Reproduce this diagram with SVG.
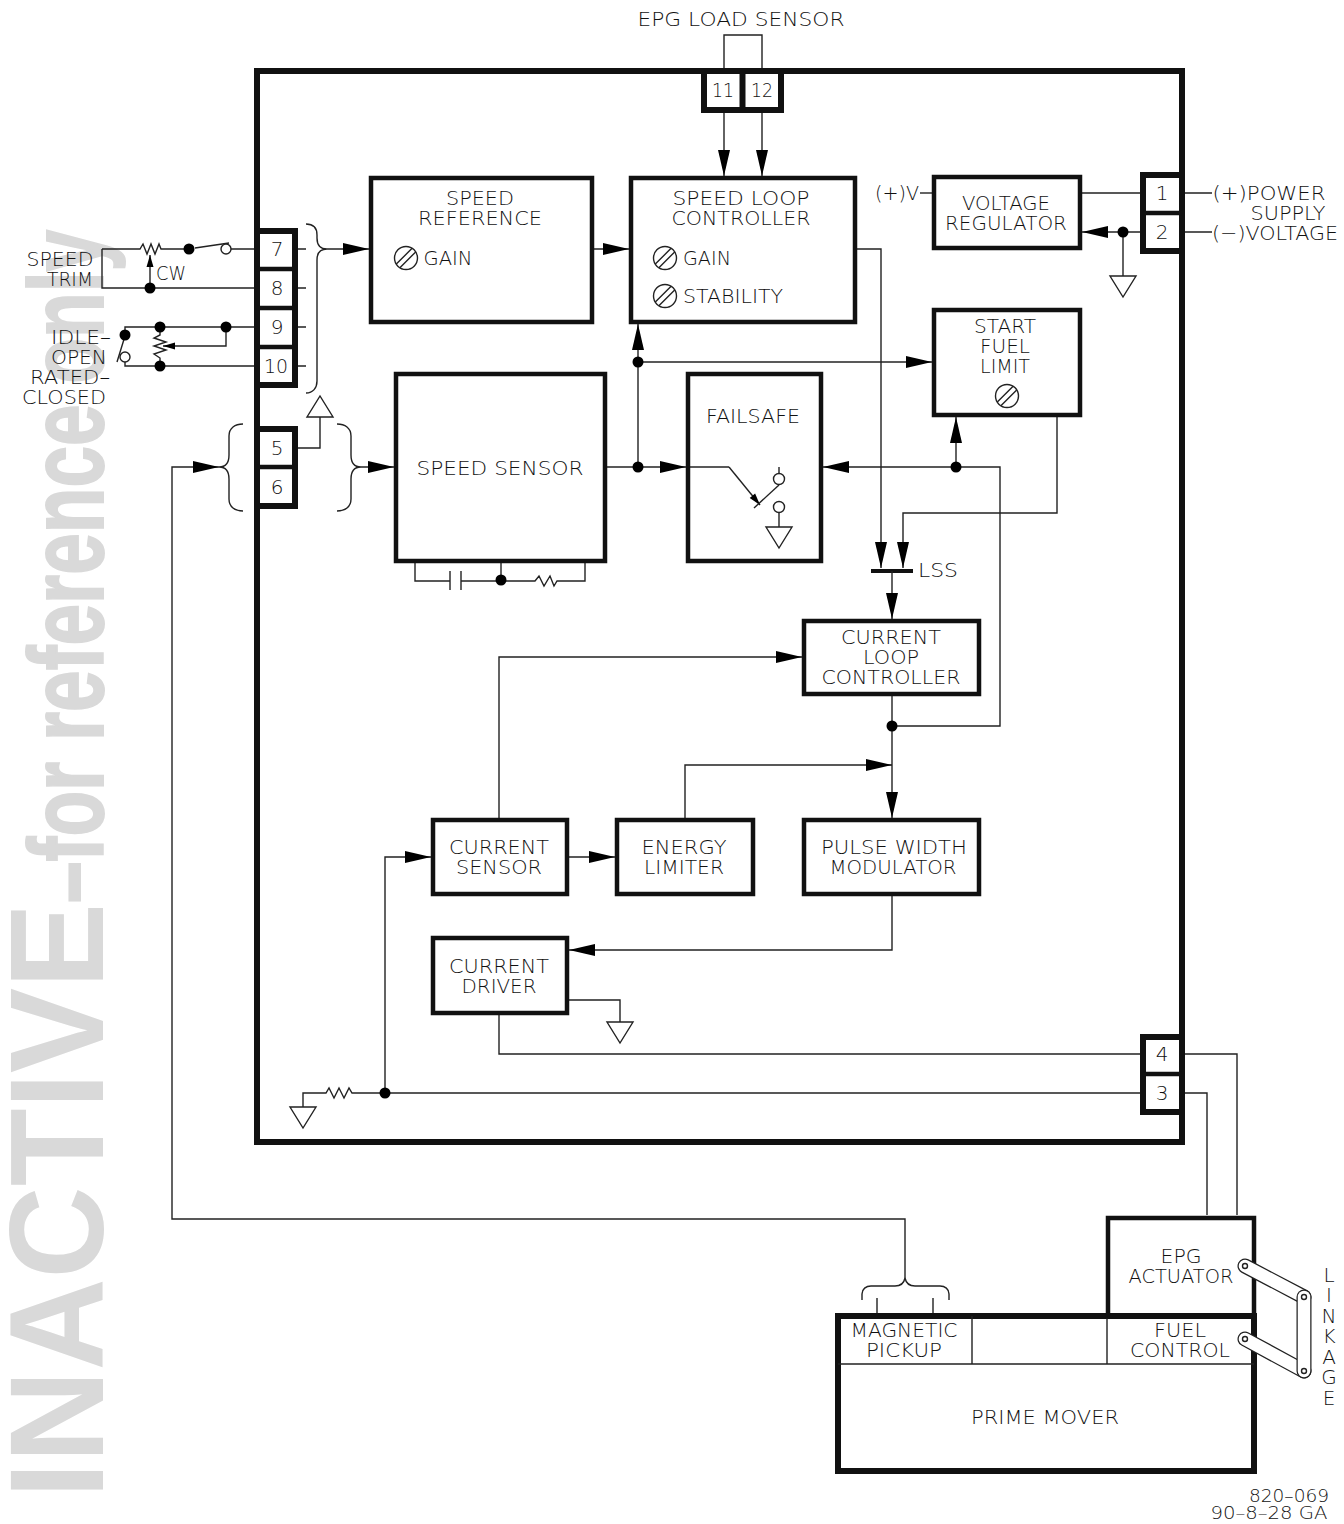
<svg xmlns="http://www.w3.org/2000/svg" width="1344" height="1524" viewBox="0 0 1344 1524">
<style>
.t{font-family:"DejaVu Sans","Liberation Sans",sans-serif;font-weight:200;font-size:20px;fill:#111;text-anchor:middle;transform:translateY(-1px)}
.n{font-family:"DejaVu Sans","Liberation Sans",sans-serif;font-weight:200;font-size:20px;fill:#111;text-anchor:middle;transform:translateY(-1px)}
.b{fill:none;stroke:#111;stroke-width:4.5}
.p{fill:#fff;stroke:#111;stroke-width:6}
.o{fill:none;stroke:#111;stroke-width:6}
.w{fill:none;stroke:#222;stroke-width:1.4}
.a{marker-end:url(#ah)}
.s{marker-end:url(#sh)}
.d{fill:#000;stroke:none}
.c{fill:#fff;stroke:#222;stroke-width:1.4}
.lo{fill:none;stroke:#222;stroke-width:15;stroke-linecap:round}
.li{fill:none;stroke:#fff;stroke-width:12.500;stroke-linecap:round}
</style>
<defs>
<marker id="ah" markerUnits="userSpaceOnUse" markerWidth="28" markerHeight="14" refX="27" refY="6" orient="auto" viewBox="0 0 28 12"><path d="M1 0L27 6L1 12Z" fill="#000"/></marker>
<marker id="sh" markerUnits="userSpaceOnUse" markerWidth="14" markerHeight="8" refX="13" refY="4" orient="auto" viewBox="0 0 14 8"><path d="M1 .5L13 4L1 7.5Z" fill="#000"/></marker>
<g id="trim"><circle r="11.500" fill="none" stroke="#222" stroke-width="1.400"/><path d="M-9.700 6.100L6.100 -9.700M-6.100 9.700L9.700 -6.100" fill="none" stroke="#222" stroke-width="1.400"/></g>
<path id="gnd" d="M-13 0H13L0 21Z" fill="none" stroke="#222" stroke-width="1.400"/>
</defs>
<rect width="1344" height="1524" fill="#fff"/>
<text id="watermark" transform="translate(103,1498) rotate(-90)" font-family="Liberation Sans" font-weight="700" fill="#d9d9d9"><tspan font-size="133" textLength="595" lengthAdjust="spacingAndGlyphs">INACTIVE</tspan><tspan font-size="105" textLength="673" lengthAdjust="spacingAndGlyphs" stroke="#d9d9d9" stroke-width="2">–for reference only</tspan></text>

<g id="connectors">
<path class="w" d="M724 71V35H762V71"/>
<path class="w a" d="M724 112V176"/>
<path class="w a" d="M762 112V176"/>
<path class="w a" d="M593 249H629"/>
<path class="w" d="M298 249H306M298 288H306M298 327H306M298 366H306"/>
<path class="w" d="M306 224C313 224 317 228 317 235V238C317 245 320 249 327 249C320 249 317 253 317 260V381C317 388 313 393 306 393"/>
<path class="w a" d="M327 249H369"/>
<path class="w" d="M298 448H320V417"/>
<path class="w" d="M243 424C235 424 229 428 229 436V455C229 462 226 467 219 467C226 467 229 472 229 479V499C229 507 235 511 243 511"/>
<path class="w" d="M337 424C345 424 351 428 351 436V455C351 462 354 467 361 467C354 467 351 472 351 479V499C351 507 345 511 337 511"/>
<path class="w a" d="M361 467H394"/>
<path class="w a" d="M905 1278V1219H172V467H219"/>
<path class="w" d="M862 1300V1294C862 1289 866 1286 871 1286H895C900 1286 904 1283 905 1278C906 1283 910 1286 915 1286H940C945 1286 949 1289 949 1294V1300"/>
<path class="w" d="M877 1298V1316M933 1298V1316"/>
<path class="w a" d="M607 467H686"/>
<path class="w a" d="M638 467V324"/>
<path class="w a" d="M638 362H932"/>
<path class="w a" d="M857 249H881V568"/>
<path class="w a" d="M1057 417V513H903V568"/>
<path class="b" d="M871 571H913" style="stroke-width:4"/>
<path class="w a" d="M892 571V619"/>
<path class="w a" d="M892 696V818"/>
<path class="w a" d="M892 726H1000V467H823"/>
<path class="w a" d="M956 467V417"/>
<path class="w" d="M686 467H729"/>
<path class="w s" d="M729 467L760 505"/>
<path class="w" d="M754 508L779 485"/>
<path class="w" d="M779 473V467"/>
<path class="w" d="M779 513V527"/>
<path class="w" d="M415 563V581H450M450 571V590M461 571V590M461 581H535L539 576L544 586L550 576L554 586L557 581H585V563M501 563V581"/>
<path class="w" d="M920 193H932"/>
<path class="w" d="M1082 193H1140M1185 193H1212M1185 232H1212"/>
<path class="w a" d="M1140 232H1082"/>
<path class="w" d="M1123 232V276"/>
<path class="w a" d="M499 818V657H802"/>
<path class="w a" d="M569 857H615"/>
<path class="w a" d="M685 818V765H892"/>
<path class="w a" d="M892 896V950H569"/>
<path class="w" d="M569 1000H620V1022"/>
<path class="w" d="M499 1015V1054H1140M1185 1054H1237V1215M1185 1093H1207V1215"/>
<path class="w" d="M1140 1093H352L349 1088L344 1098L339 1088L334 1098L329 1088L326 1093H303V1107"/>
<path class="w a" d="M385 1093V857H431"/>
<path class="w" d="M102 249H140L143 244L147 254L151 244L155 254L159 244L161 249H189M195 248L229 243M231 249H258M102 249V288H258"/>
<path class="w s" d="M150 288V255"/>
<path class="w" d="M125 335V327H258M125 362V366H258M117 362L125 336"/>
<path class="w" d="M160 327V335L154 338L166 342L154 346L166 350L154 354L160 358V366"/>
<path class="w s" d="M226 327V346H163"/>
<circle class="d" cx="638" cy="467" r="5.500"/><circle class="d" cx="638" cy="362" r="5.500"/><circle class="d" cx="956" cy="467" r="5.500"/><circle class="d" cx="892" cy="726" r="5.500"/><circle class="d" cx="501" cy="580" r="5.500"/><circle class="d" cx="1123" cy="232" r="5.500"/><circle class="d" cx="385" cy="1093" r="5.500"/><circle class="d" cx="189" cy="249" r="5.500"/><circle class="d" cx="150" cy="288" r="5.500"/><circle class="d" cx="125" cy="335" r="5.500"/><circle class="d" cx="160" cy="327" r="5.500"/><circle class="d" cx="226" cy="327" r="5.500"/><circle class="d" cx="160" cy="366" r="5.500"/>
<circle class="c" cx="226" cy="249" r="5"/><circle class="c" cx="125" cy="357" r="5"/><circle class="c" cx="779" cy="479" r="5.500"/><circle class="c" cx="779" cy="507" r="5.500"/>
<use href="#gnd" x="320" y="417" transform="translate(640,834) scale(-1,-1)"/>
<use href="#gnd" x="779" y="527"/><use href="#gnd" x="1123" y="276"/><use href="#gnd" x="620" y="1022"/><use href="#gnd" x="303" y="1107"/>
</g>

<g id="frame"><rect class="o" x="257" y="71" width="925" height="1071"/></g>

<g id="term-top"><rect class="p" x="704" y="71" width="77" height="39"/><path class="o" d="M742.500 71V110"/><text class="n" x="723" y="98" textLength="22" lengthAdjust="spacingAndGlyphs">11</text><text class="n" x="762" y="98" textLength="22" lengthAdjust="spacingAndGlyphs">12</text></g>
<g id="term-7-10"><rect class="p" x="257" y="231" width="38" height="154"/><path class="b" d="M257 269H295M257 308H295M257 347H295"/><text class="n" x="277" y="257">7</text><text class="n" x="277" y="296">8</text><text class="n" x="277" y="335">9</text><text class="n" x="276" y="374" textLength="24" lengthAdjust="spacingAndGlyphs">10</text></g>
<g id="term-5-6"><rect class="p" x="257" y="429" width="38" height="77"/><path class="b" d="M257 467H295"/><text class="n" x="277" y="456">5</text><text class="n" x="277" y="495">6</text></g>
<g id="term-1-2"><rect class="p" x="1143" y="175" width="39" height="76"/><path class="b" d="M1143 213H1182"/><text class="n" x="1162" y="201">1</text><text class="n" x="1162" y="240">2</text></g>
<g id="term-4-3"><rect class="p" x="1143" y="1037" width="39" height="75"/><path class="b" d="M1143 1074H1182"/><text class="n" x="1162" y="1062">4</text><text class="n" x="1162" y="1101">3</text></g>

<g id="speed-reference"><rect class="b" x="371" y="178" width="221" height="144"/><text class="t" x="480" y="206" textLength="68" lengthAdjust="spacingAndGlyphs">SPEED</text><text class="t" x="480" y="226" textLength="124" lengthAdjust="spacingAndGlyphs">REFERENCE</text><use href="#trim" x="406" y="258"/><text class="t" x="448" y="266" textLength="49" lengthAdjust="spacingAndGlyphs">GAIN</text></g>
<g id="speed-loop"><rect class="b" x="631" y="178" width="224" height="144"/><text class="t" x="741" y="206" textLength="137" lengthAdjust="spacingAndGlyphs">SPEED LOOP</text><text class="t" x="741" y="226" textLength="139" lengthAdjust="spacingAndGlyphs">CONTROLLER</text><use href="#trim" x="665" y="258"/><text class="t" x="707" y="266" textLength="48" lengthAdjust="spacingAndGlyphs">GAIN</text><use href="#trim" x="665" y="296"/><text class="t" x="733" y="304" textLength="100" lengthAdjust="spacingAndGlyphs">STABILITY</text></g>
<g id="voltage-regulator"><rect class="b" x="934" y="177" width="146" height="71"/><text class="t" x="1006" y="211" textLength="88" lengthAdjust="spacingAndGlyphs">VOLTAGE</text><text class="t" x="1006" y="231" textLength="122" lengthAdjust="spacingAndGlyphs">REGULATOR</text></g>
<g id="start-fuel-limit"><rect class="b" x="934" y="310" width="146" height="105"/><text class="t" x="1005" y="334" textLength="62" lengthAdjust="spacingAndGlyphs">START</text><text class="t" x="1005" y="354" textLength="50" lengthAdjust="spacingAndGlyphs">FUEL</text><text class="t" x="1005" y="374" textLength="50" lengthAdjust="spacingAndGlyphs">LIMIT</text><use href="#trim" x="1007" y="396"/></g>
<g id="speed-sensor"><rect class="b" x="396" y="374" width="209" height="187"/><text class="t" x="500" y="476" textLength="167" lengthAdjust="spacingAndGlyphs">SPEED SENSOR</text></g>
<g id="failsafe"><rect class="b" x="688" y="374" width="133" height="187"/><text class="t" x="753" y="424" textLength="94" lengthAdjust="spacingAndGlyphs">FAILSAFE</text></g>
<g id="lss"><text class="t" x="938" y="578" textLength="40" lengthAdjust="spacingAndGlyphs">LSS</text></g>
<g id="current-loop"><rect class="b" x="804" y="621" width="175" height="73"/><text class="t" x="891" y="645" textLength="100" lengthAdjust="spacingAndGlyphs">CURRENT</text><text class="t" x="891" y="665" textLength="56" lengthAdjust="spacingAndGlyphs">LOOP</text><text class="t" x="891" y="685" textLength="139" lengthAdjust="spacingAndGlyphs">CONTROLLER</text></g>
<g id="current-sensor"><rect class="b" x="433" y="820" width="134" height="74"/><text class="t" x="499" y="855" textLength="100" lengthAdjust="spacingAndGlyphs">CURRENT</text><text class="t" x="499" y="875" textLength="86" lengthAdjust="spacingAndGlyphs">SENSOR</text></g>
<g id="energy-limiter"><rect class="b" x="617" y="820" width="136" height="74"/><text class="t" x="684" y="855" textLength="85" lengthAdjust="spacingAndGlyphs">ENERGY</text><text class="t" x="684" y="875" textLength="80" lengthAdjust="spacingAndGlyphs">LIMITER</text></g>
<g id="pwm"><rect class="b" x="804" y="820" width="175" height="74"/><text class="t" x="894" y="855" textLength="146" lengthAdjust="spacingAndGlyphs">PULSE WIDTH</text><text class="t" x="893" y="875" textLength="127" lengthAdjust="spacingAndGlyphs">MODULATOR</text></g>
<g id="current-driver"><rect class="b" x="433" y="938" width="134" height="75"/><text class="t" x="499" y="974" textLength="100" lengthAdjust="spacingAndGlyphs">CURRENT</text><text class="t" x="499" y="994" textLength="75" lengthAdjust="spacingAndGlyphs">DRIVER</text></g>

<g id="prime-mover"><rect class="o" x="838" y="1316" width="416" height="155"/><path class="w" d="M838 1364H1254M972 1316V1364M1107 1316V1364"/><text class="t" x="904" y="1338" textLength="107" lengthAdjust="spacingAndGlyphs">MAGNETIC</text><text class="t" x="904" y="1358" textLength="76" lengthAdjust="spacingAndGlyphs">PICKUP</text><text class="t" x="1180" y="1338" textLength="52" lengthAdjust="spacingAndGlyphs">FUEL</text><text class="t" x="1180" y="1358" textLength="100" lengthAdjust="spacingAndGlyphs">CONTROL</text><text class="t" x="1045" y="1425" textLength="148" lengthAdjust="spacingAndGlyphs">PRIME MOVER</text></g>
<g id="epg-actuator"><rect class="b" x="1108" y="1218" width="146" height="98"/><text class="t" x="1181" y="1264" textLength="41" lengthAdjust="spacingAndGlyphs">EPG</text><text class="t" x="1181" y="1284" textLength="105" lengthAdjust="spacingAndGlyphs">ACTUATOR</text></g>
<g id="linkage">
<path class="lo" d="M1245 1266L1304 1297"/><path class="li" d="M1245 1266L1304 1297"/>
<path class="lo" d="M1245 1339L1304 1371"/><path class="li" d="M1245 1339L1304 1371"/>
<path class="lo" d="M1304 1297V1371"/><path class="li" d="M1304 1297V1371"/>
<circle class="c" cx="1245" cy="1266" r="2.500"/><circle class="c" cx="1304" cy="1297" r="2.500"/><circle class="c" cx="1304" cy="1371" r="2.500"/><circle class="c" cx="1245" cy="1339" r="2.500"/>
<text class="t"><tspan x="1329" y="1283">L</tspan><tspan x="1329" y="1303">I</tspan><tspan x="1329" y="1324">N</tspan><tspan x="1329" y="1344">K</tspan><tspan x="1329" y="1365">A</tspan><tspan x="1329" y="1385">G</tspan><tspan x="1329" y="1406">E</tspan></text>
</g>

<g id="labels">
<text class="t" x="741" y="27" textLength="207" lengthAdjust="spacingAndGlyphs">EPG LOAD SENSOR</text>
<text class="t" x="897" y="201" textLength="44" lengthAdjust="spacingAndGlyphs">(+)V</text>
<text class="t" x="1269" y="201" textLength="113" lengthAdjust="spacingAndGlyphs">(+)POWER</text>
<text class="t" x="1288" y="221" textLength="75" lengthAdjust="spacingAndGlyphs">SUPPLY</text>
<text class="t" x="1275" y="241" textLength="126" lengthAdjust="spacingAndGlyphs">(−)VOLTAGE</text>
<text class="t" x="60" y="267" textLength="67" lengthAdjust="spacingAndGlyphs">SPEED</text>
<text class="t" x="70" y="287" textLength="46" lengthAdjust="spacingAndGlyphs">TRIM</text>
<text class="t" x="171" y="281" textLength="30" lengthAdjust="spacingAndGlyphs">CW</text>
<text class="t" x="81" y="345" textLength="60" lengthAdjust="spacingAndGlyphs">IDLE–</text>
<text class="t" x="79" y="365" textLength="56" lengthAdjust="spacingAndGlyphs">OPEN</text>
<text class="t" x="70" y="385" textLength="80" lengthAdjust="spacingAndGlyphs">RATED–</text>
<text class="t" x="64" y="405" textLength="84" lengthAdjust="spacingAndGlyphs">CLOSED</text>
<text class="t" x="1289" y="1503" style="font-size:17px" textLength="80" lengthAdjust="spacingAndGlyphs">820–069</text>
<text class="t" x="1269" y="1520" style="font-size:17px" textLength="117" lengthAdjust="spacingAndGlyphs">90–8–28 GA</text>
</g>
</svg>
